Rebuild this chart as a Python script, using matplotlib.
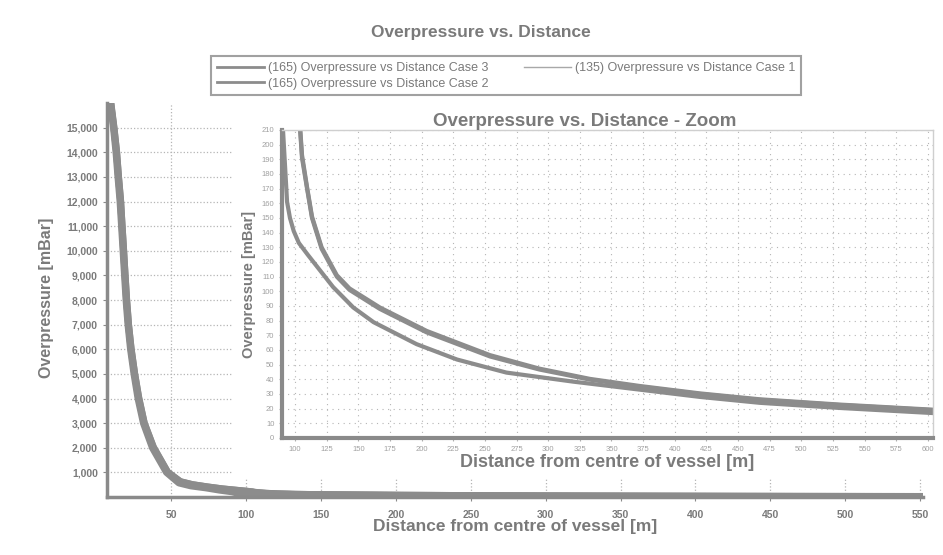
import matplotlib.pyplot as plt
from matplotlib.patches import Rectangle
from matplotlib.ticker import FuncFormatter

plt.rcParams['font.family'] = ['Liberation Sans', 'DejaVu Sans']

# distances [m] and overpressures [mBar]
dist_case1 = [8.5, 9.3, 11.3, 13, 14.3, 15.7, 16.7, 17.7, 18.7, 19.7, 21, 22.7, 25, 27.7,
              31.3, 37.3, 46.7, 55, 63, 73, 82, 90.5, 93.7, 96, 99, 103, 110, 120, 130,
              146, 162, 196, 228, 267, 320, 372, 420, 467, 530, 604]
p_case1 = [16800, 16000, 15000, 14000, 13000, 12000, 11000, 10000, 9000, 8000, 7000, 6000,
           5000, 4000, 3000, 2000, 1000, 570, 450, 370, 280, 210, 161, 150, 141, 133, 125,
           114, 103, 89, 79, 64, 53.5, 44.6, 38.4, 33, 28, 24, 20.5, 17]

dist_case2 = [8.8, 9.6, 11.7, 13.4, 14.7, 16.1, 17.1, 18.1, 19.1, 20.1, 21.4, 23.1, 25.5,
              28.2, 31.9, 38, 47.5, 56, 64, 74, 84, 94, 100, 104, 105.5, 109.5, 113.4, 121,
              133, 143, 167, 204, 254, 293, 333, 372, 420, 467, 530, 604]
p_case2 = [16800, 16000, 15000, 14000, 13000, 12000, 11000, 10000, 9000, 8000, 7000, 6000,
           5000, 4000, 3000, 2000, 1000, 620, 500, 410, 330, 270, 235, 210, 191, 170, 150,
           129, 110, 101, 88, 72, 55.6, 46.7, 39.8, 35, 30, 26, 22.5, 19]
p_case3 = [16800, 15950, 14950, 14050, 13000, 12050, 11000, 10050, 9000, 8050, 7000, 6050,
           5000, 4050, 3000, 2030, 1010, 625, 505, 412, 332, 272, 237, 212, 193, 171, 151,
           130, 111, 102, 89, 73, 56.5, 47.3, 40.3, 35.5, 30.4, 26.4, 22.8, 19.3]

series_labels = ['(165) Overpressure vs Distance Case 3',
                 '(165) Overpressure vs Distance Case 2',
                 '(135) Overpressure vs Distance Case 1']

main_xticks = [50, 100, 150, 200, 250, 300, 350, 400, 450, 500, 550]
main_yticks = [1000, 2000, 3000, 4000, 5000, 6000, 7000, 8000, 9000, 10000, 11000,
               12000, 13000, 14000, 15000]
zoom_xticks = list(range(100, 601, 25))
zoom_yticks = list(range(0, 211, 10))

LINE = '#8c8c8c'
TEXT = '#7a7a7a'
SPINE = '#8a8a8a'
GRID = '#b5b5b5'

fig = plt.figure(figsize=(9.43, 5.55), dpi=100, facecolor='white')

# main chart
ax = fig.add_axes([107/943, 1 - 497/555, (923 - 107)/943, (497 - 103)/555])
l3, = ax.plot(dist_case2, p_case3, color=LINE, lw=5, label=series_labels[0])
l2, = ax.plot(dist_case2, p_case2, color=LINE, lw=5, label=series_labels[1])
l1, = ax.plot(dist_case1, p_case1, color=LINE, lw=5, label=series_labels[2])
ax.set_xlim(7, 552)
ax.set_ylim(0, 16000)
ax.set_xticks(main_xticks)
ax.set_yticks(main_yticks)
ax.yaxis.set_major_formatter(FuncFormatter(lambda v, p: f'{int(v):,}'))
ax.grid(True, linestyle=':', color=GRID, lw=0.9)
for s in ['top', 'right']:
    ax.spines[s].set_visible(False)
for s in ['left', 'bottom']:
    ax.spines[s].set_color(SPINE)
    ax.spines[s].set_linewidth(2.5)
ax.tick_params(colors=SPINE, length=3, labelcolor=TEXT, labelsize=7.5)
ax.tick_params(axis='x', pad=6)
for t in ax.get_xticklabels() + ax.get_yticklabels():
    t.set_fontweight('bold')

fig.text(481/943, 1 - 33/555, 'Overpressure vs. Distance', ha='center', va='center',
         fontsize=12.5, fontweight='bold', color=TEXT)
fig.text(515/943, 1 - 526/555, 'Distance from centre of vessel [m]', ha='center',
         va='center', fontsize=12.5, fontweight='bold', color=TEXT)
fig.text(47/943, 1 - 298/555, 'Overpressure [mBar]', ha='center', va='center',
         rotation=90, fontsize=11.5, fontweight='bold', color=TEXT)

leg = fig.legend(handles=[l3, l2, l1], loc='upper left', bbox_to_anchor=(205/943, 1 - 50/555),
                 ncol=2, fontsize=9, frameon=True, fancybox=False, handlelength=3.8,
                 columnspacing=2.8, labelcolor=TEXT, borderpad=0.45, labelspacing=0.3,
                 handletextpad=0.3)
leg.get_frame().set_edgecolor(SPINE)
leg.get_frame().set_linewidth(1.5)
for ln in leg.get_lines():
    ln.set_linewidth(2)
leg.get_lines()[2].set_linewidth(1)
leg.get_lines()[2].set_color('#a8a8a8')

# white backing for the zoom panel
fig.add_artist(Rectangle((232/943, 1 - 478/555), 1 - 232/943, (478 - 105)/555,
                         transform=fig.transFigure, facecolor='white', edgecolor='none',
                         zorder=1))

# zoom inset
axz = fig.add_axes([282/943, 1 - 438/555, (933 - 282)/943, (438 - 130)/555], zorder=2)
axz.plot(dist_case2, p_case3, color=LINE, lw=3)
axz.plot(dist_case2, p_case2, color=LINE, lw=3)
axz.plot(dist_case1, p_case1, color=LINE, lw=3)
axz.set_xlim(89.7, 604)
axz.set_ylim(0, 210)
axz.set_xticks(zoom_xticks)
axz.set_yticks(zoom_yticks)
axz.grid(True, linestyle=(0, (1, 4)), color=GRID, lw=0.8)
for s in ['top', 'right']:
    axz.spines[s].set_color('#cfcfcf')
    axz.spines[s].set_linewidth(1)
for s in ['left', 'bottom']:
    axz.spines[s].set_color(SPINE)
    axz.spines[s].set_linewidth(3)
axz.tick_params(colors='#b0b0b0', length=2, labelcolor='#a0a0a0', labelsize=5.5)
axz.set_title('Overpressure vs. Distance - Zoom', fontsize=13.5, fontweight='bold',
              color=TEXT, pad=3, x=(585 - 282)/651)
axz.set_xlabel('Distance from centre of vessel [m]', fontsize=13, fontweight='bold',
               color=TEXT, labelpad=1)
axz.set_ylabel('Overpressure [mBar]', fontsize=10.5, fontweight='bold', color=TEXT,
               labelpad=4)

plt.savefig('out.png', dpi=100, facecolor='white')
